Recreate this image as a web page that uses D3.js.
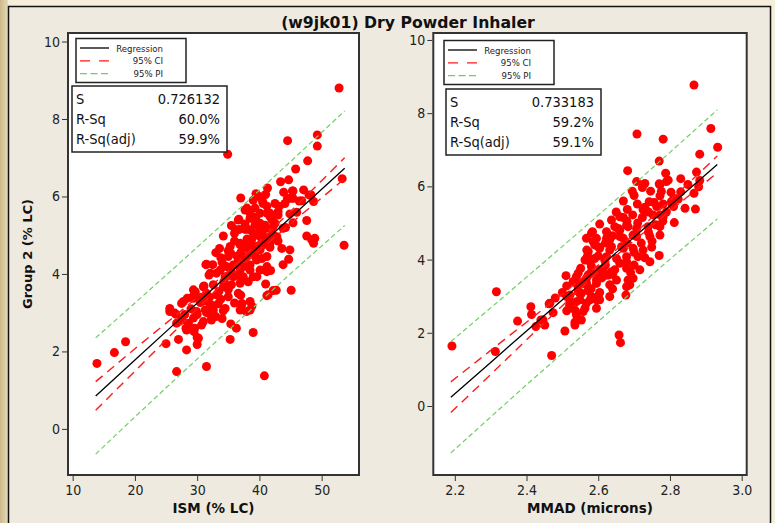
<!DOCTYPE html>
<html>
<head>
<meta charset="utf-8">
<script src="https://cdn.jsdelivr.net/npm/d3@7"></script>
<style>
body { margin: 0; background: #f4ecd8; }
svg { display: block; }
</style>
</head>
<body>
<div class="canvas"></div>
<script>
// ---- data ----
const title = '(w9jk01) Dry Powder Inhaler';

// left plot: ISM vs Group 2
const ism = [44.53,49.3,49.3,34.9,47.75,45.82,53.3,43.4,44.7,41.3,39.45,37.0,45.3,43.9,47.1,47.96,46.4,44.9,48.7,40.5,
  42.5,37.7,41.2,39.4,46.0,44.9,47.6,43.0,41.7,36.6,38.5,36.1,37.7,40.1,42.2,44.2,34.2,41.2,42.8,47.6,
  48.9,48.7,53.6,43.6,44.9,33.6,35.3,36.9,38.2,39.55,40.6,41.7,44.7,43.8,33.8,35.0,36.4,37.7,39.3,40.4,
  31.4,32.5,34.7,35.8,37.1,38.5,41.2,41.8,31.9,33.1,34.5,35.8,37.4,39.0,31.1,32.6,34.2,35.5,36.9,38.2,
  41.0,45.1,42.7,41.2,29.7,29.3,31.5,33.1,35.0,36.6,28.4,27.5,30.5,32.1,33.4,37.2,38.5,38.8,36.9,37.9,
  25.6,26.6,29.9,31.5,32.6,34.2,27.5,28.6,29.4,31.0,32.3,28.3,29.6,29.5,30.7,35.4,36.3,39.0,27.0,30.0,
  25.0,30.0,35.3,28.3,18.5,16.7,13.9,26.7,31.5,40.8,52.8,
  40.6,39.3,41.2,36.7,38.75,40.1,37.7,36.8,38.2,40.9,39.8,36.9,38.5,40.1,35.4,31.5,38.0,39.6,41.2,32.1,
  33.7,35.3,36.9,38.5,40.1,34.7,37.4,39.6,45.4,45.4,46.8,48.3,44.1,38.5,40.1,41.7,43.0,39.3,40.9,42.5,
  43.8,45.4,40.6,42.5,38.75,48.4,41.7,40.1,39.55,41.2,42.2,41.4,37.15,38.5,25.6,26.4,27.8,29.4,31.0,29.4,
  31.3,32.3,34.5,26.7,32.3,28.2,29.4,30.2,
  33.0,34.0,35.0,36.0,37.0,38.0,39.0,35.5,36.5,37.5,38.8,34.3,33.5,35.0,36.2,37.8,39.2,40.2,42.0,43.2,
  44.5,42.0,43.0,36.0,35.5,39.0,38.0,40.0,41.0,32.0,33.8,30.5,31.0,29.0,28.0,30.0,33.0,34.0,36.0,37.0];
const group2L = [7.44,7.59,7.30,7.09,6.92,6.71,6.46,6.38,6.43,6.22,6.07,5.96,6.14,6.11,6.17,6.04,5.88,5.95,5.87,5.87,
  5.82,5.65,5.75,5.46,5.59,5.55,5.38,5.52,5.48,5.39,5.44,5.15,5.15,5.18,5.22,5.20,4.98,4.92,4.96,4.98,
  4.92,4.79,4.74,4.66,4.62,4.66,4.71,4.75,4.66,4.71,4.75,4.69,4.38,4.24,4.42,4.45,4.46,4.40,4.46,4.40,
  4.24,4.24,4.19,4.23,4.19,4.23,4.19,4.09,3.97,4.02,3.93,3.93,3.86,3.93,3.69,3.72,3.67,3.72,3.76,3.80,
  3.74,3.58,3.58,3.44,3.54,3.41,3.50,3.46,3.41,3.50,3.37,3.24,3.26,3.20,3.23,3.24,3.29,3.17,3.07,3.03,
  3.03,2.96,3.03,3.00,3.07,3.05,2.81,2.73,2.86,2.77,2.86,2.55,2.60,2.51,2.68,2.71,2.60,2.49,2.31,2.36,
  2.20,2.18,2.31,2.04,2.25,1.97,1.69,1.48,1.61,1.37,8.80,
  5.82,5.70,5.57,5.41,5.44,5.31,5.29,5.15,5.15,5.18,5.00,4.79,4.75,4.75,4.53,4.25,4.45,4.40,4.45,4.02,
  4.10,4.15,4.10,4.10,4.10,3.93,3.93,3.93,6.14,5.95,5.89,6.04,5.82,5.57,5.57,5.57,5.61,5.26,5.26,5.31,
  5.18,5.32,5.00,4.96,4.88,4.88,4.79,4.62,4.36,4.06,3.57,3.46,3.20,3.07,3.11,2.99,3.29,3.59,3.67,3.37,
  3.07,3.20,3.11,2.73,2.81,2.60,2.55,2.34,
  4.55,4.30,4.60,4.85,4.55,4.90,5.05,4.05,4.30,4.70,4.55,3.80,3.55,3.60,3.95,4.20,4.70,4.95,5.40,5.75,
  5.95,5.05,4.85,5.05,5.25,5.90,5.70,6.00,6.05,3.40,3.35,3.40,3.30,3.10,2.95,2.95,2.90,2.85,3.25,3.45];

// fitted line and bands, left plot (sampled along x)
const bandXL = [13.7, 20, 26, 32, 36, 40, 46, 53.7];
const fitL   = [0.85, 1.78, 2.66, 3.54, 4.13, 4.72, 5.60, 6.73];
const ciLoL  = [0.48, 1.49, 2.46, 3.42, 4.04, 4.61, 5.43, 6.46];
const ciHiL  = [1.22, 2.07, 2.86, 3.66, 4.22, 4.83, 5.77, 7.00];
const piLoL  = [-0.65, 0.31, 1.21, 2.10, 2.69, 3.28, 4.15, 5.25];
const piHiL  = [2.35, 3.25, 4.11, 4.98, 5.57, 6.16, 7.05, 8.21];

// right plot: MMAD vs Group 2
const mmad = [2.867,2.708,2.781,2.914,2.933,2.883,2.770,2.682,2.788,2.874,2.83,2.707,2.730,2.770,2.795,2.695,2.723,2.746,2.776,2.803,
  2.88,2.867,2.823,2.806,2.842,2.871,2.681,2.709,2.730,2.756,2.781,2.670,2.696,2.723,2.753,2.781,2.812,2.604,2.637,2.656,
  2.683,2.707,2.739,2.772,2.584,2.623,2.567,2.595,2.632,2.670,2.707,2.744,2.772,2.568,2.600,2.632,2.665,2.697,2.725,2.749,
  2.770,2.563,2.590,2.618,2.651,2.679,2.711,2.744,2.551,2.581,2.614,2.646,2.679,2.716,2.510,2.539,2.567,2.595,2.623,2.651,
  2.683,2.512,2.544,2.567,2.595,2.632,2.679,2.521,2.553,2.581,2.604,2.632,2.677,2.316,2.539,2.567,2.595,2.463,2.412,2.414,
  2.474,2.375,2.440,2.451,2.426,2.539,2.558,2.535,2.553,2.507,2.192,2.313,2.470,2.658,2.662,
  2.535,2.512,2.535,2.563,2.595,2.521,2.549,2.577,2.604,2.512,2.544,2.572,2.600,2.628,2.539,2.567,2.544,2.572,2.604,2.637,
  2.577,2.623,2.679,2.688,2.697,2.572,2.604,2.637,2.670,2.586,2.623,2.660,2.697,2.581,2.646,2.679,2.465,2.446,
  2.790,2.772,2.883,2.742,2.772,2.811,2.725,2.763,2.804,2.660,2.772,
  2.60,2.62,2.64,2.66,2.68,2.70,2.72,2.74,2.76,2.78,2.62,2.64,2.66,2.69,2.58,2.56,2.58,2.61,2.55,2.60,
  2.64,2.70,2.73,2.75,2.79,2.81,2.83,2.85,2.74,2.71,2.68,2.65,2.70,2.67,2.59,2.57,2.53,2.50,2.48,2.52];
const group2R = [8.77,7.43,7.29,7.58,7.07,6.88,6.69,6.43,6.36,6.39,6.21,6.13,6.08,6.07,6.17,5.87,5.97,5.87,5.86,5.84,
  5.99,5.81,5.65,5.52,5.40,5.38,5.37,5.52,5.43,5.56,5.52,5.15,5.22,5.15,5.22,5.17,5.01,4.97,5.08,4.85,
  4.90,4.85,4.90,4.90,4.76,4.76,4.58,4.58,4.54,4.58,4.63,4.63,4.67,4.26,4.35,4.26,4.35,4.31,4.26,4.34,
  4.11,3.99,4.03,3.99,4.03,4.08,4.08,3.94,3.76,3.81,3.76,3.72,3.76,3.72,3.56,3.53,3.49,3.44,3.58,3.44,
  3.44,3.28,3.26,3.31,3.35,3.31,3.26,3.03,3.08,2.99,3.10,2.99,3.03,3.12,2.85,2.81,2.90,2.79,2.71,2.50,
  2.55,2.32,2.35,2.21,2.17,2.49,2.58,2.29,2.35,2.05,1.64,1.49,1.38,1.94,1.73,
  2.21,2.60,2.62,2.67,2.67,2.85,2.90,2.90,2.90,2.99,3.13,3.15,3.63,3.58,3.35,3.37,3.63,3.58,3.72,3.67,
  3.94,4.08,3.94,3.31,3.49,4.22,4.31,4.35,4.31,4.49,4.58,4.63,4.67,4.72,4.90,4.94,2.81,2.35,
  6.13,6.04,6.16,5.58,5.74,5.67,5.36,5.45,5.58,5.17,5.22,
  4.10,4.45,4.65,4.80,4.45,4.20,4.45,4.75,4.95,5.05,3.85,3.60,3.90,3.65,3.65,3.40,3.20,3.50,3.05,3.00,
  3.20,3.85,4.05,4.50,5.30,5.45,5.85,6.05,5.30,5.00,5.05,5.30,5.75,5.60,4.40,4.10,3.40,3.10,2.95,2.75];

const bandXR = [2.189, 2.3, 2.4, 2.5, 2.6, 2.65, 2.7, 2.8, 2.932];
const fitR   = [0.24, 1.19, 2.05, 2.90, 3.76, 4.19, 4.61, 5.47, 6.60];
const ciLoR  = [-0.18, 0.86, 1.81, 2.74, 3.67, 4.11, 4.52, 5.33, 6.37];
const ciHiR  = [0.66, 1.52, 2.29, 3.06, 3.85, 4.27, 4.70, 5.61, 6.83];
const piLoR  = [-1.28, -0.30, 0.58, 1.44, 2.31, 2.74, 3.16, 4.01, 5.11];
const piHiR  = [1.76, 2.68, 3.52, 4.36, 5.21, 5.64, 6.06, 6.93, 8.09];

const yTicks = [0, 2, 4, 6, 8, 10];
const xTicksL = [10, 20, 30, 40, 50];
const xTicksR = [2.2, 2.4, 2.6, 2.8, 3.0];
const statNames = ['S', 'R-Sq', 'R-Sq(adj)'];
const statsL = ['0.726132', '60.0%', '59.9%'];
const statsR = ['0.733183', '59.2%', '59.1%'];
const legendNames = ['Regression', '95% CI', '95% PI'];

// ---- drawing ----
const W = 775, H = 523;
const tickFont = '"DejaVu Sans Condensed", "DejaVu Sans", sans-serif';

const svg = d3.select('.canvas')
    .append('svg')
    .attr('width', W)
    .attr('height', H);

const defs = svg.append('defs');
const grad = defs.append('linearGradient').attr('id', 'edge')
    .attr('x1', 0).attr('x2', 1).attr('y1', 0).attr('y2', 0);
grad.append('stop').attr('offset', '0%').attr('stop-color', '#cdb98a');
grad.append('stop').attr('offset', '100%').attr('stop-color', '#e6dab9');

svg.append('rect').attr('width', W).attr('height', H).attr('fill', '#f5eedb');
svg.append('rect').attr('width', 8).attr('height', H).attr('fill', 'url(#edge)');
svg.append('rect')
    .attr('x', 8.5).attr('y', 6.5)
    .attr('width', 762).attr('height', 530)
    .attr('fill', '#eeeae0')
    .attr('stroke', '#111')
    .attr('stroke-width', 1.5);

svg.append('text')
    .attr('x', 408).attr('y', 28)
    .attr('text-anchor', 'middle')
    .attr('font-family', '"DejaVu Sans", sans-serif')
    .attr('font-weight', 'bold')
    .attr('font-size', 15.7)
    .attr('fill', '#111')
    .text(title);

svg.append('text')
    .attr('transform', 'translate(32, 254) rotate(-90)')
    .attr('text-anchor', 'middle')
    .attr('font-family', '"DejaVu Sans", sans-serif')
    .attr('font-weight', 'bold')
    .attr('font-size', 13)
    .attr('fill', '#111')
    .text('Group 2 (% LC)');

function drawPanel(cfg) {
    const x = d3.scaleLinear().domain(cfg.xDomain).range([cfg.left, cfg.right]);
    const y = d3.scaleLinear().domain(cfg.yDomain).range([475, 33]);
    const g = svg.append('g');

    g.append('rect')
        .attr('x', cfg.left).attr('y', 33)
        .attr('width', cfg.right - cfg.left).attr('height', 442)
        .attr('fill', '#fff');

    // points
    g.selectAll('circle')
        .data(cfg.xs.map((d, i) => [d, cfg.ys[i]]))
        .enter()
        .append('circle')
        .attr('cx', d => x(d[0]))
        .attr('cy', d => y(d[1]))
        .attr('r', 4.5)
        .attr('fill', '#ff0000');

    const line = vals => d3.line()
        .x((d, i) => x(cfg.bx[i]))
        .y(d => y(d))(vals);

    const bands = [
        { v: cfg.piLo, c: '#6fcf63', w: 1.2, dash: '5,3' },
        { v: cfg.piHi, c: '#6fcf63', w: 1.2, dash: '5,3' },
        { v: cfg.ciLo, c: '#ff1a1a', w: 1.4, dash: '9,6' },
        { v: cfg.ciHi, c: '#ff1a1a', w: 1.4, dash: '9,6' },
        { v: cfg.fit, c: '#000', w: 1.3, dash: null }
    ];
    bands.forEach(b => {
        g.append('path')
            .attr('d', line(b.v))
            .attr('fill', 'none')
            .attr('stroke', b.c)
            .attr('stroke-width', b.w)
            .attr('stroke-dasharray', b.dash);
    });

    g.append('rect')
        .attr('x', cfg.left).attr('y', 33)
        .attr('width', cfg.right - cfg.left).attr('height', 442)
        .attr('fill', 'none')
        .attr('stroke', '#333')
        .attr('stroke-width', 2);

    const yAxis = d3.axisLeft(y).tickValues(yTicks).tickSize(5).tickPadding(2);
    const xAxis = d3.axisBottom(x).tickValues(cfg.xTicks).tickSize(5).tickPadding(4)
        .tickFormat(cfg.xFormat);

    const yg = g.append('g').attr('transform', `translate(${cfg.left - 1}, 0)`).call(yAxis);
    const xg = g.append('g').attr('transform', 'translate(0, 476)').call(xAxis);
    [yg, xg].forEach(a => {
        a.select('.domain').remove();
        a.selectAll('line').attr('stroke', '#333');
        a.selectAll('text')
            .attr('font-family', tickFont)
            .attr('font-size', 14)
            .attr('fill', '#222');
    });

    g.append('text')
        .attr('x', (cfg.left + cfg.right) / 2).attr('y', 513)
        .attr('text-anchor', 'middle')
        .attr('font-family', '"DejaVu Sans", sans-serif')
        .attr('font-weight', 'bold')
        .attr('font-size', 13.5)
        .attr('fill', '#111')
        .text(cfg.xLabel);

    // legend box
    const lg = g.append('g').attr('transform', `translate(${cfg.legX}, ${cfg.legY})`);
    lg.append('rect').attr('width', 110).attr('height', 44)
        .attr('fill', '#fff').attr('stroke', '#222').attr('stroke-width', 1.5);
    const legStyle = [
        { c: '#000', dash: null },
        { c: '#ff1a1a', dash: '10,9' },
        { c: '#6fcf63', dash: '7,3.5' }
    ];
    legendNames.forEach((name, i) => {
        const yy = 9.5 + i * 12.8;
        lg.append('line')
            .attr('x1', 4).attr('x2', 33).attr('y1', yy).attr('y2', yy)
            .attr('stroke', legStyle[i].c)
            .attr('stroke-width', 1.3)
            .attr('stroke-dasharray', legStyle[i].dash);
        lg.append('text')
            .attr('x', 87).attr('y', yy + 3.5)
            .attr('text-anchor', 'end')
            .attr('font-family', tickFont)
            .attr('font-size', 9.5)
            .attr('fill', '#222')
            .text(name);
    });

    // stats box
    const sg = g.append('g').attr('transform', `translate(${cfg.statX}, ${cfg.statY})`);
    sg.append('rect').attr('width', 155).attr('height', 66)
        .attr('fill', '#fff').attr('stroke', '#222').attr('stroke-width', 1.5);
    statNames.forEach((name, i) => {
        const yy = 18 + i * 19.8;
        sg.append('text')
            .attr('x', 4).attr('y', yy)
            .attr('font-family', tickFont)
            .attr('font-size', 14.5)
            .attr('fill', '#111')
            .text(name);
        sg.append('text')
            .attr('x', 148).attr('y', yy)
            .attr('text-anchor', 'end')
            .attr('font-family', tickFont)
            .attr('font-size', 14.5)
            .attr('fill', '#111')
            .text(cfg.stats[i]);
    });
}

drawPanel({
    left: 68, right: 359,
    xDomain: [9.25, 56.0], yDomain: [-1.19, 10.22],
    xs: ism, ys: group2L,
    bx: bandXL, fit: fitL, ciLo: ciLoL, ciHi: ciHiL, piLo: piLoL, piHi: piHiL,
    xTicks: xTicksL, xFormat: d3.format('d'),
    xLabel: 'ISM (% LC)',
    legX: 76, legY: 38.5, statX: 72, statY: 86,
    stats: statsL
});

drawPanel({
    left: 433.3, right: 746.7,
    xDomain: [2.14, 3.014], yDomain: [-1.885, 10.19],
    xs: mmad, ys: group2R,
    bx: bandXR, fit: fitR, ciLo: ciLoR, ciHi: ciHiR, piLo: piLoR, piHi: piHiR,
    xTicks: xTicksR, xFormat: d3.format('.1f'),
    xLabel: 'MMAD (microns)',
    legX: 444, legY: 40.5, statX: 446, statY: 89,
    stats: statsR
});
</script>
</body>
</html>
